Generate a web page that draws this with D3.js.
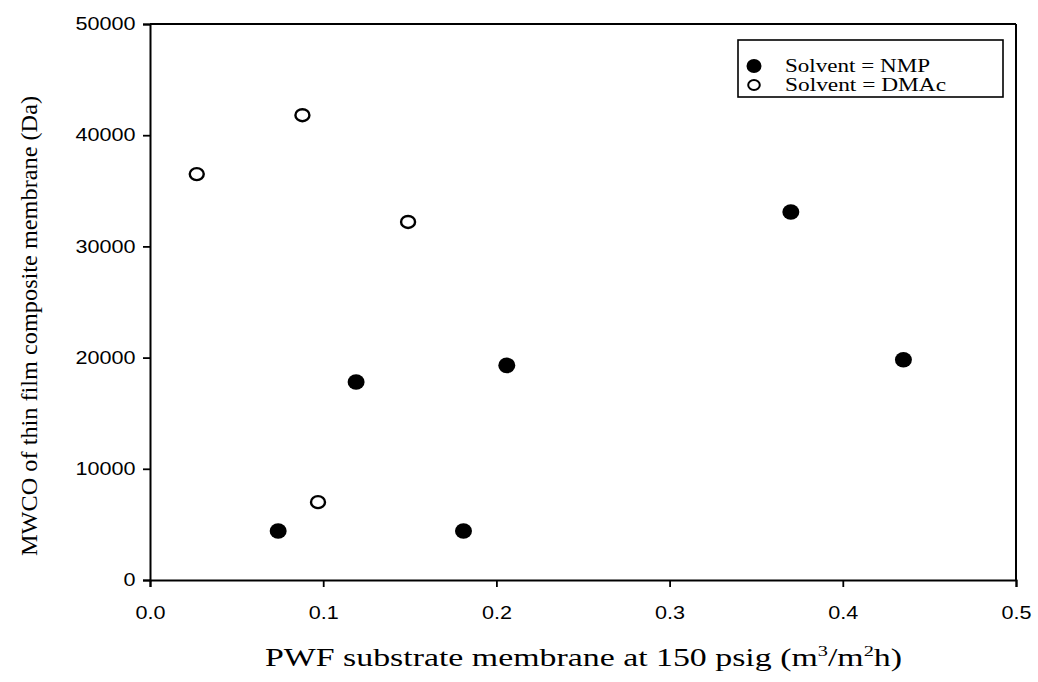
<!DOCTYPE html>
<html><head><meta charset="utf-8">
<script src="https://cdn.jsdelivr.net/npm/d3@7"></script>
<style>body{margin:0;background:#fff}</style>
</head><body>
<svg id="c" width="1038" height="682"></svg>
<script>
const nmpX = [0.074, 0.119, 0.181, 0.206, 0.370, 0.435];
const nmpY = [4400, 17800, 4400, 19300, 33100, 19800];
const dmacX = [0.027, 0.088, 0.097, 0.149];
const dmacY = [36500, 41800, 7000, 32200];
const xTicks = [0, 0.1, 0.2, 0.3, 0.4, 0.5];
const yTicks = [0, 10000, 20000, 30000, 40000, 50000];
const legendLabels = ["Solvent = NMP", "Solvent = DMAc"];

const svg = d3.select("#c");
const L = 150, R = 1016, T = 24, B = 580;
const x = d3.scaleLinear().domain([0, 0.5]).range([L, R]);
const y = d3.scaleLinear().domain([0, 50000]).range([B, T]);
const serif = "'Liberation Serif', 'Times New Roman', serif";
const sans = "'Liberation Sans', Arial, sans-serif";

const xAxis = svg.append("g").attr("transform", `translate(0,${B})`)
  .call(d3.axisBottom(x).tickValues(xTicks).tickFormat(d3.format(".1f")).tickSize(7).tickPadding(19));
const yAxis = svg.append("g").attr("transform", `translate(${L},0)`)
  .call(d3.axisLeft(y).tickValues(yTicks).tickFormat(d3.format("d")).tickSize(7).tickPadding(5));
[xAxis, yAxis].forEach(g => {
  g.select(".domain").attr("stroke", "#000").attr("stroke-width", 2);
  g.selectAll(".tick line").attr("stroke", "#000").attr("stroke-width", 1.8);
  g.selectAll(".tick text").attr("fill", "#000").attr("transform", "scale(1.2,1)")
    .style("font-family", sans).style("font-size", "18px");
});
// frame top and right
svg.append("line").attr("x1", L).attr("x2", R).attr("y1", T).attr("y2", T).attr("stroke", "#000").attr("stroke-width", 2);
svg.append("line").attr("x1", R).attr("x2", R).attr("y1", T).attr("y2", B).attr("stroke", "#000").attr("stroke-width", 2);

// points
svg.append("g").selectAll("ellipse").data(nmpX.map((d, i) => [d, nmpY[i]])).join("ellipse")
  .attr("cx", d => x(d[0])).attr("cy", d => y(d[1])).attr("rx", 8.5).attr("ry", 7.8).attr("fill", "#000");
svg.append("g").selectAll("ellipse").data(dmacX.map((d, i) => [d, dmacY[i]])).join("ellipse")
  .attr("cx", d => x(d[0])).attr("cy", d => y(d[1])).attr("rx", 7).attr("ry", 6).attr("fill", "#fff")
  .attr("stroke", "#000").attr("stroke-width", 2.4);

// legend
svg.append("rect").attr("x", 738).attr("y", 40).attr("width", 265).attr("height", 57)
  .attr("fill", "#fff").attr("stroke", "#000").attr("stroke-width", 1.6);
const lg = svg.append("g");
lg.append("ellipse").attr("cx", 754).attr("cy", 66).attr("rx", 7.5).attr("ry", 7).attr("fill", "#000");
lg.append("ellipse").attr("cx", 754).attr("cy", 85).attr("rx", 5.8).attr("ry", 5).attr("fill", "#fff").attr("stroke", "#000").attr("stroke-width", 2);
const legendLen = [145, 161];
lg.selectAll("text").data(legendLabels).join("text")
  .attr("x", 785).attr("y", (d, i) => 72 + i * 19).text(d => d)
  .attr("textLength", (d, i) => legendLen[i]).attr("lengthAdjust", "spacingAndGlyphs")
  .style("font-family", serif).style("font-size", "18px");

// axis titles
svg.append("text").attr("x", 265).attr("y", 666).attr("textLength", 637).attr("lengthAdjust", "spacingAndGlyphs")
  .style("font-family", serif).style("font-size", "25px")
  .html('PWF substrate membrane at 150 psig (m<tspan dy="-10" font-size="15">3</tspan><tspan dy="10">/m</tspan><tspan dy="-10" font-size="15">2</tspan><tspan dy="10">h)</tspan>');
svg.append("text").attr("transform", `translate(37,326) rotate(-90)`).attr("text-anchor", "middle")
  .attr("textLength", 460).attr("lengthAdjust", "spacingAndGlyphs")
  .style("font-family", serif).style("font-size", "24px")
  .text("MWCO of thin film composite membrane (Da)");
</script>
</body></html>
